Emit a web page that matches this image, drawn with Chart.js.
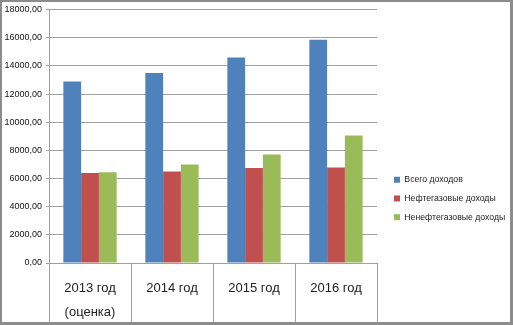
<!DOCTYPE html>
<html>
<head>
<meta charset="utf-8">
<script src="https://cdn.jsdelivr.net/npm/chart.js@4.4.1/dist/chart.umd.min.js"></script>
<style>
  html, body { margin: 0; padding: 0; background: #fff; }
  #frame {
    width: 513px; height: 325px; box-sizing: border-box;
    border: 2px solid #8c8c8c; border-right-width: 3px; border-bottom-width: 3px;
  }
  #incomeChart { display: block; }
</style>
</head>
<body>
<div id="frame"><canvas id="incomeChart" width="508" height="320"></canvas></div>
<script>
const years = [['2013 год', '(оценка)'], '2014 год', '2015 год', '2016 год'];
const totalIncome = [12900, 13500, 14600, 15850];
const oilGasIncome = [6400, 6500, 6750, 6780];
const nonOilGasIncome = [6450, 7000, 7700, 9050];
const seriesNames = ['Всего доходов', 'Нефтегазовые доходы', 'Ненефтегазовые доходы'];

const gridColor = '#a0a0a0';

const ctx = document.getElementById('incomeChart');

const chart = new Chart(ctx, {
  type: 'bar',
  data: {
    labels: years,
    datasets: [
      { label: seriesNames[0], data: totalIncome, backgroundColor: '#4f81bd' },
      { label: seriesNames[1], data: oilGasIncome, backgroundColor: '#c0504d' },
      { label: seriesNames[2], data: nonOilGasIncome, backgroundColor: '#9bbb59' }
    ]
  },
  options: {
    responsive: false,
    animation: false,
    events: [],
    borderWidth: 0,
    categoryPercentage: 0.65,
    barPercentage: 1,
    layout: { padding: { top: 6, right: 0, left: 0, bottom: 0 } },
    plugins: {
      tooltip: { enabled: false },
      legend: {
        position: 'right',
        align: 'start',
        maxWidth: 126,
        // empty title only pushes the entries down
        title: { display: true, text: '', padding: { top: 143, bottom: 0 } },
        labels: {
          boxWidth: 6,
          boxHeight: 6,
          padding: 10,
          color: '#222',
          font: { family: 'Liberation Sans', size: 8.7 }
        }
      }
    },
    scales: {
      x: {
        grid: {
          offset: true,
          drawOnChartArea: false,
          tickLength: 59,
          color: gridColor
        },
        border: { color: gridColor },
        ticks: {
          padding: -45,
          color: '#222',
          font: { family: 'Liberation Sans', size: 13, lineHeight: 1.8 }
        },
        afterFit: function(scale) { scale.height = 59; }
      },
      y: {
        min: 0,
        max: 18000,
        grid: { color: gridColor, tickLength: 3 },
        border: { color: gridColor },
        ticks: {
          stepSize: 2000,
          padding: 4,
          color: '#111',
          font: { family: 'Liberation Sans', size: 9, lineHeight: 0.8 },
          callback: function(value) {
            return value.toFixed(2).replace('.', ',');
          }
        },
        afterFit: function(scale) { scale.width = 47; }
      },
      // thin spacer between plot and legend
      gap: {
        position: 'right',
        grid: { display: false },
        border: { display: false },
        ticks: { display: false },
        afterFit: function(scale) { scale.width = 7; }
      }
    }
  }
});
</script>
</body>
</html>
